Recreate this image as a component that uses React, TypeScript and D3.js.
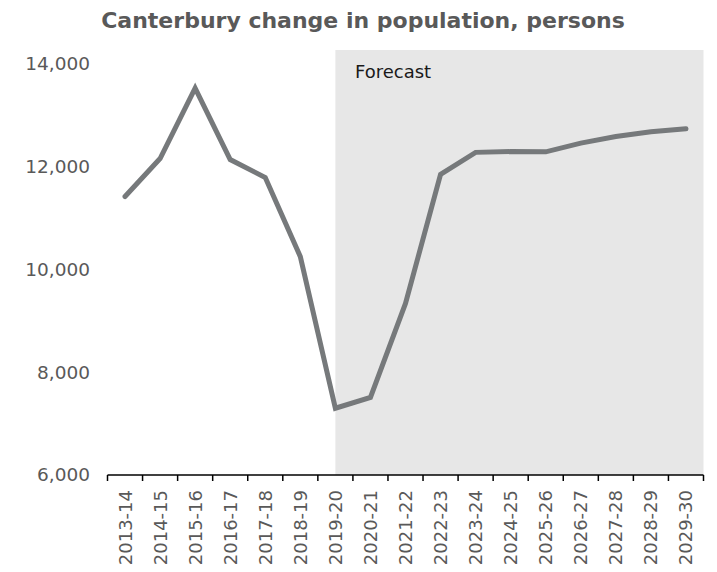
import React from "react";
import * as d3 from "d3";

const categories = ["2013-14","2014-15","2015-16","2016-17","2017-18","2018-19","2019-20","2020-21","2021-22","2022-23","2023-24","2024-25","2025-26","2026-27","2027-28","2028-29","2029-30"];
const values = [11420,12160,13530,12140,11790,10250,7300,7510,9340,11850,12280,12295,12290,12460,12590,12680,12740];
const yTicks = [6000,8000,10000,12000,14000];
const forecastStart = "2019-20";
const title = "Canterbury change in population, persons";
const forecastLabel = "Forecast";

const W = 717, H = 572;
const left = 107.5, right = 703.5, top = 64, bottom = 475, shadeTop = 50;
const font = "'DejaVu Sans', Verdana, sans-serif";

export default function App() {
  const x = d3.scaleBand<string>().domain(categories).range([left, right]).padding(0);
  const y = d3.scaleLinear().domain([6000, 14000]).range([bottom, top]);
  const cx = (c: string) => (x(c) as number) + x.bandwidth() / 2;
  const line = d3.line<number>().x((_, i) => cx(categories[i])).y(d => y(d));
  const fmt = d3.format(",");
  const shadeX = cx(forecastStart);
  return (
    <svg width={W} height={H} style={{ position: "absolute", left: 0, top: 0, background: "#fff" }}>
      <rect x={shadeX} y={shadeTop} width={right - shadeX} height={bottom - shadeTop} fill="#e7e7e7" />
      <text x={363} y={28} textAnchor="middle" fontFamily={font} fontWeight="bold" fontSize={22} fill="#595959">{title}</text>
      <text x={355} y={78} fontFamily={font} fontSize={18} fill="#1a1a1a">{forecastLabel}</text>
      {yTicks.map(t => (
        <text key={t} x={90} y={y(t)} dy="0.35em" textAnchor="end" fontFamily={font} fontSize={18.5} fill="#595959">{fmt(t)}</text>
      ))}
      <line x1={left} x2={right} y1={bottom} y2={bottom} stroke="#000" strokeWidth={1.5} />
      {d3.range(categories.length + 1).map(i => {
        const xx = left + i * x.bandwidth();
        return <line key={i} x1={xx} x2={xx} y1={bottom} y2={bottom + 6} stroke="#000" strokeWidth={1.5} />;
      })}
      {categories.map(c => (
        <text key={c} transform={`translate(${cx(c) + 6.5},490) rotate(-90)`} textAnchor="end" fontFamily={font} fontSize={18} fill="#595959">{c}</text>
      ))}
      <path d={line(values) || ""} fill="none" stroke="#76797b" strokeWidth={5} strokeLinecap="round" strokeLinejoin="miter" />
    </svg>
  );
}
